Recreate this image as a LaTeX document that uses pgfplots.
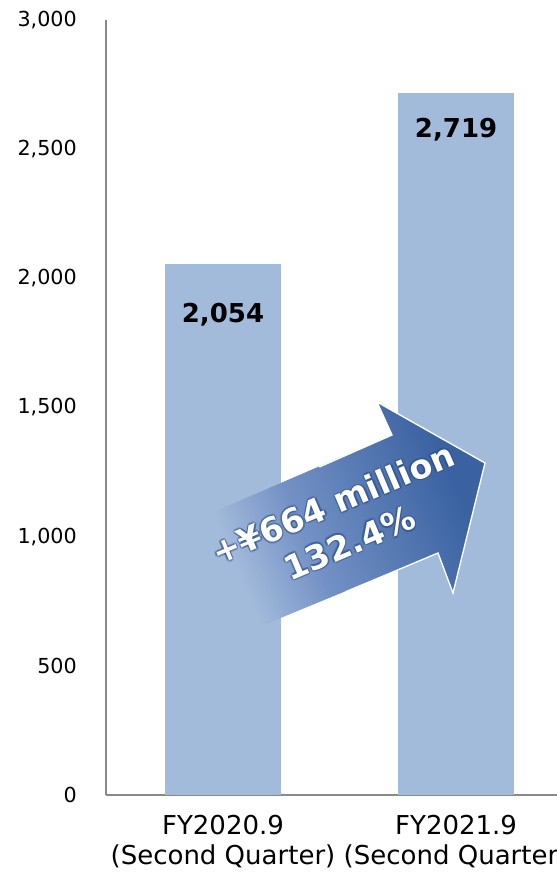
\documentclass[border=0pt]{standalone}
\usepackage{pgfplots}
\pgfplotsset{compat=1.18}
\usepackage{fontspec}
\setmainfont{DejaVu Sans}
\definecolor{barc}{HTML}{A3BBDB}
\definecolor{axc}{HTML}{898989}
\definecolor{arrdark}{HTML}{3A62A1}
\definecolor{arrmid}{HTML}{7391C5}
\definecolor{glow}{HTML}{2B4C86}
\pgfdeclarehorizontalshading{arrowshade}{100bp}{color(0bp)=(barc); color(29bp)=(barc); color(43bp)=(arrmid); color(72bp)=(arrdark); color(100bp)=(arrdark)}
\begin{document}
\begin{tikzpicture}
\begin{axis}[
  at={(0,0)}, anchor=south west,
  scale only axis, width=338.25pt, height=581.25pt,
  xmin=-0.502, xmax=1.433, ymin=0, ymax=3000,
  axis lines=left,
  axis line style={-, draw=axc, line width=2pt},
  xtick={0,1},
  xticklabels={{FY2020.9\\(Second Quarter)},{FY2021.9\\(Second Quarter)}},
  ytick={0,500,1000,1500,2000,2500,3000},
  major tick length=0pt,
  tick style={draw=none},
  /pgf/number format/assume math mode=true,
  /pgf/number format/1000 sep={,},
  yticklabel style={font=\fontsize{15.5}{18}\selectfont, anchor=east, inner sep=0pt, xshift=-21.75pt},
  xticklabel style={font=\fontsize{19.5}{22.5}\selectfont, align=center, anchor=north, inner sep=0pt, yshift=-15pt},
  ybar, bar width=87pt,
  clip=false,
]
\addplot[fill=barc, draw=none, bar shift=0pt, nodes near coords,
  every node near coord/.append style={font=\bfseries\fontsize{19.5}{22}\selectfont, anchor=center, yshift=-37.5pt, text=black}]
  coordinates {(0,2054)};
\addplot[fill=barc, draw=none, bar shift=0pt, nodes near coords,
  every node near coord/.append style={font=\bfseries\fontsize{19.5}{22}\selectfont, anchor=center, yshift=-27.75pt, text=black}]
  coordinates {(1,2719)};
\end{axis}
% arrow annotation
\path[shading=arrowshade, shading angle=23]
  (66.75pt,206.25pt) -- (214.5pt,270pt) -- (203.25pt,294.75pt) -- (284.25pt,249pt)
  -- (260.25pt,151.5pt) -- (249pt,181.5pt) -- (89.25pt,115.5pt) -- cycle;
\draw[white, line width=1pt, line join=miter]
  (160pt,246pt) -- (214.5pt,270pt) -- (203.25pt,294.75pt) -- (284.25pt,249pt)
  -- (260.25pt,151.5pt) -- (249pt,181.5pt) -- (180pt,152.5pt);
\foreach \dx/\dy in {1.2/0,-1.2/0,0/1.2,0/-1.2,0.9/0.9,-0.9/0.9,0.9/-0.9,-0.9/-0.9}{
  \node[rotate=23, align=center, font=\bfseries\fontsize{25}{32}\selectfont, text=glow, opacity=0.3]
    at ([shift={(\dx pt,\dy pt)}]176.25pt,204pt) {+¥664 million\\132.4\%};
}
\node[rotate=23, align=center, font=\bfseries\fontsize{25}{32}\selectfont, text=white]
  at (176.25pt,204pt) {+¥664 million\\132.4\%};
\pgfresetboundingbox
\path (-79.5pt,-60pt) rectangle (338.25pt,596.25pt);
\end{tikzpicture}
\end{document}
